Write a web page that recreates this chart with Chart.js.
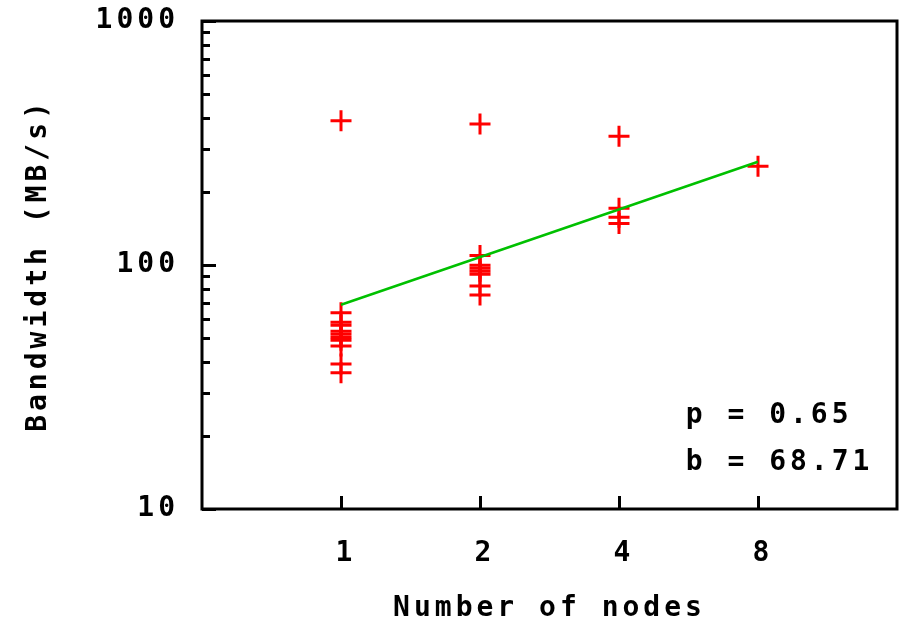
<!DOCTYPE html>
<html>
<head>
<meta charset="utf-8">
<script src="https://cdn.jsdelivr.net/npm/chart.js@4.4.1/dist/chart.umd.min.js"></script>
<style>
  html, body { margin: 0; padding: 0; background: #fff; }
  #wrap { width: 904px; height: 622px; }
</style>
</head>
<body>
<div id="wrap"><canvas id="chart" width="904" height="622"></canvas></div>
<script>
  // measured bandwidth per run, grouped by node count
  const nodeCounts = [1, 2, 4, 8];
  const bw1 = [390, 63.7, 58.3, 56.6, 53.5, 52.0, 50.5, 49.2, 46.6, 39.3, 36.2];
  const bw2 = [378, 109.4, 99.8, 97.0, 94.3, 91.6, 82.0, 75.3];
  const bw4 = [337, 171, 157, 148];
  const bw8 = [254];

  // fitted curve b * n^p, read at its two ends
  const fitNodes = [1, 8];
  const fitBandwidth = [68.7, 265];
  const fitText = ['p = 0.65', 'b = 68.71'];

  const xTicks = [1, 2, 4, 8];
  const yTicks = [10, 20, 30, 40, 50, 60, 70, 80, 90, 100, 200, 300, 400, 500, 600, 700, 800, 900, 1000];
  const yMajor = [10, 100, 1000];

  const FONT = 'DejaVu Sans Mono';
  const SPACING = '4px';

  const groups = [bw1, bw2, bw4, bw8];
  const runPoints = [];
  groups.forEach((g, i) => g.forEach(v => runPoints.push({x: nodeCounts[i], y: v})));
  const fitPoints = fitNodes.map((n, i) => ({x: n, y: fitBandwidth[i]}));

  const framePlugin = {
    id: 'frame',
    beforeDraw(chart) {
      chart.ctx.letterSpacing = SPACING;
    },
    afterDraw(chart) {
      const ctx = chart.ctx;
      const a = chart.chartArea;
      const xs = chart.scales.x, ys = chart.scales.y;
      ctx.save();
      ctx.strokeStyle = '#000';
      ctx.lineWidth = 3;
      ctx.strokeRect(a.left, a.top, a.right - a.left, a.bottom - a.top);
      ctx.beginPath();
      xTicks.forEach(t => {
        const px = Math.round(xs.getPixelForValue(t)) + 0.5;
        ctx.moveTo(px, a.bottom);
        ctx.lineTo(px, a.bottom - 13);
      });
      yTicks.forEach(t => {
        const py = Math.round(ys.getPixelForValue(t)) + 0.5;
        const len = yMajor.includes(t) ? 14 : 8;
        ctx.moveTo(a.left, py);
        ctx.lineTo(a.left + len, py);
      });
      ctx.stroke();

      ctx.fillStyle = '#000';
      ctx.font = 'bold 28px "' + FONT + '"';
      ctx.letterSpacing = SPACING;
      ctx.textAlign = 'left';
      ctx.textBaseline = 'middle';
      const w = a.right - a.left, h = a.bottom - a.top;
      ctx.fillText(fitText[0], a.left + w * 0.696, a.top + h * 0.808);
      ctx.fillText(fitText[1], a.left + w * 0.696, a.top + h * 0.906);
      ctx.restore();
    }
  };

  new Chart(document.getElementById('chart'), {
    type: 'scatter',
    data: {
      datasets: [
        {
          label: 'runs',
          data: runPoints,
          pointStyle: 'cross',
          pointRadius: 10.5,
          pointHoverRadius: 10.5,
          borderColor: '#ff0000',
          backgroundColor: '#ff0000',
          borderWidth: 3,
          pointBorderWidth: 3,
          order: 2
        },
        {
          label: 'fit',
          data: fitPoints,
          type: 'line',
          showLine: true,
          borderColor: '#00c000',
          borderWidth: 2.5,
          pointRadius: 0,
          fill: false,
          order: 1
        }
      ]
    },
    options: {
      responsive: false,
      animation: false,
      layout: { autoPadding: false, padding: { top: 21, right: 7, left: 0, bottom: 0 } },
      plugins: { legend: { display: false }, tooltip: { enabled: false } },
      scales: {
        x: {
          type: 'logarithmic',
          min: 0.5,
          max: 16,
          afterBuildTicks: s => { s.ticks = xTicks.map(v => ({value: v})); },
          afterFit: s => { s.height = 113; s.paddingLeft = 0; s.paddingRight = 0; },
          grid: { display: false, drawTicks: false },
          border: { display: false },
          ticks: {
            color: '#000',
            padding: 28,
            labelOffset: 5,
            maxRotation: 0,
            autoSkip: false,
            font: { family: FONT, weight: 'bold', size: 28 },
            callback: v => String(v)
          },
          title: {
            display: true,
            text: 'Number of nodes',
            color: '#000',
            padding: { top: 0, bottom: -4 },
            font: { family: FONT, weight: 'bold', size: 28 }
          }
        },
        y: {
          type: 'logarithmic',
          min: 10,
          max: 1000,
          afterBuildTicks: s => { s.ticks = yTicks.map(v => ({value: v})); },
          afterFit: s => { s.width = 202; s.paddingTop = 0; s.paddingBottom = 0; },
          grid: { display: false, drawTicks: false },
          border: { display: false },
          ticks: {
            color: '#000',
            padding: 23,
            autoSkip: false,
            font: { family: FONT, weight: 'bold', size: 28 },
            callback: v => yMajor.includes(v) ? String(v) : ''
          },
          title: {
            display: true,
            text: 'Bandwidth (MB/s)',
            color: '#000',
            padding: { top: 22, bottom: 0 },
            font: { family: FONT, weight: 'bold', size: 28 }
          }
        }
      }
    },
    plugins: [framePlugin]
  });
</script>
</body>
</html>
